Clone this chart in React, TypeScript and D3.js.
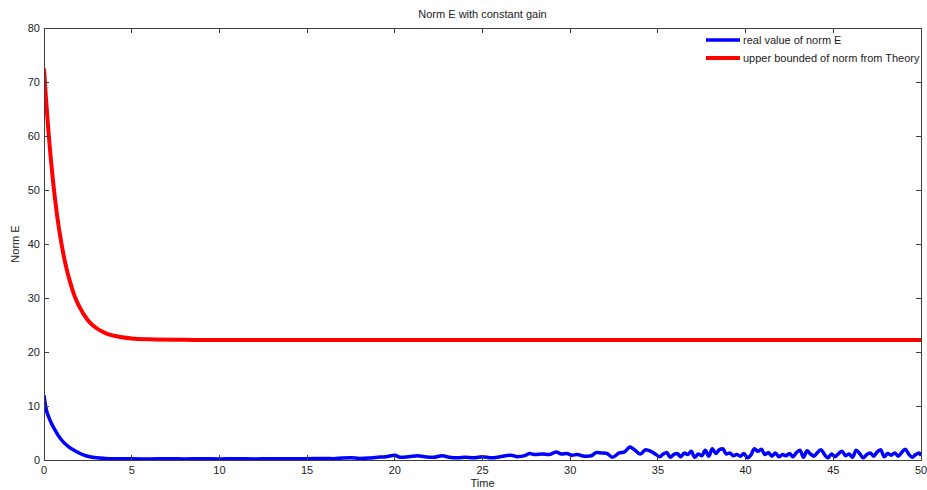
import React from "react";
import * as d3 from "d3";

const xTicks = [0, 5, 10, 15, 20, 25, 30, 35, 40, 45, 50];
const yTicks = [0, 10, 20, 30, 40, 50, 60, 70, 80];

const redT = [0, 0.1, 0.25, 0.5, 0.75, 1, 1.25, 1.5, 1.75, 2, 2.5, 3, 3.5, 4, 5, 6, 8, 10, 20, 30, 40, 50];
const redV = [72.5, 67.5, 61.0, 52.1, 45.2, 40.0, 35.9, 32.8, 30.3, 28.5, 25.9, 24.4, 23.5, 23.0, 22.5, 22.35, 22.25, 22.2, 22.2, 22.2, 22.2, 22.2];

const blueT = [
  0, 0.1, 0.34, 0.63, 1.0, 1.39, 1.86, 2.43, 3, 3.5, 4, 5, 6, 7, 8, 9, 10, 11, 12, 13, 14, 15, 16, 16.5, 17, 17.5, 18, 18.5, 19, 19.5, 20, 20.3, 20.8, 21.3, 21.7, 22.2, 22.7, 23.1, 23.6, 24, 24.5, 25, 25.5, 26, 26.6, 27, 27.4, 27.7, 28, 28.4, 28.8, 29.2, 29.5, 29.8, 30.1, 30.4, 30.8, 31.2, 31.5, 31.8, 32.1, 32.4, 32.8, 33.1, 33.4, 33.7, 34, 34.3, 34.6, 34.9,
  35.1, 35.3, 35.5, 35.7, 35.9, 36.1, 36.3, 36.5, 36.7, 36.9, 37.1, 37.3, 37.5, 37.7, 37.9, 38.1, 38.3, 38.5, 38.7, 38.9, 39.1, 39.3, 39.5, 39.7, 39.9,
  40.1, 40.3, 40.5, 40.7, 40.9, 41.1, 41.3, 41.5, 41.7, 41.9, 42.1, 42.3, 42.5, 42.7, 42.9, 43.1, 43.3, 43.5, 43.7, 43.9, 44.1, 44.3, 44.5, 44.7, 44.9,
  45.1, 45.3, 45.5, 45.7, 45.9, 46.1, 46.3, 46.5, 46.7, 46.9, 47.1, 47.3, 47.5, 47.7, 47.9, 48.1, 48.3, 48.5, 48.7, 48.9, 49.1, 49.3, 49.5, 49.7, 49.9, 50,
];
const blueV = [
  12, 9.8, 7.4, 5.55, 3.7, 2.47, 1.54, 0.74, 0.4, 0.3, 0.25, 0.22, 0.2, 0.22, 0.2, 0.22, 0.2, 0.22, 0.2, 0.25, 0.22, 0.25, 0.3, 0.25, 0.35, 0.4, 0.3, 0.35, 0.5, 0.6, 0.9, 0.5, 0.6, 0.8, 0.6, 0.5, 0.8, 0.5, 0.4, 0.5, 0.4, 0.6, 0.4, 0.6, 0.9, 0.6, 0.8, 1.2, 1.0, 1.1, 1.0, 1.5, 1.1, 1.2, 0.9, 1.0, 0.7, 0.8, 1.4, 1.3, 1.2, 0.5, 1.3, 1.5, 2.4, 1.8, 1.1, 1.9, 1.6, 1.0,
  0.6, 1.1, 1.4, 0.5, 1.0, 1.2, 0.6, 1.3, 1.0, 1.6, 0.5, 1.1, 0.8, 1.8, 0.7, 2.1, 1.2, 1.9, 2.1, 1.1, 1.3, 0.8, 1.0, 0.7, 1.2,
  0.4, 0.9, 2.1, 1.6, 2.0, 1.0, 1.4, 0.7, 1.3, 0.6, 1.0, 0.8, 1.2, 0.6, 1.4, 1.8, 0.5, 1.7, 1.1, 0.7, 1.4, 1.9, 1.0, 0.4, 1.1,
  0.6, 1.2, 1.6, 0.8, 1.1, 0.5, 1.8, 1.2, 0.4, 1.0, 1.3, 0.7, 1.5, 1.9, 0.6, 1.2, 0.9, 1.3, 0.7, 1.4, 2.0, 1.1, 0.5, 1.0, 1.3, 0.8,
];

const W = 927;
const H = 490;
const L = 44, R = 921, T = 28, B = 460;

export default function App() {
  const x = d3.scaleLinear().domain([0, 50]).range([L, R]);
  const y = d3.scaleLinear().domain([0, 80]).range([B, T]);
  const line = d3
    .line<[number, number]>()
    .x((d) => x(d[0]))
    .y((d) => y(d[1]))
    .curve(d3.curveMonotoneX);
  const red = redT.map((t, i) => [t, redV[i]] as [number, number]);
  const blue = blueT.map((t, i) => [t, blueV[i]] as [number, number]);
  const axisColor = "#404040";
  const font = "'Liberation Sans', Arial, Helvetica, sans-serif";
  return (
    <svg width={W} height={H} style={{ position: "absolute", left: 0, top: 0, background: "#fff" }} fontFamily={font}>
      <rect x={0} y={0} width={W} height={H} fill="#fff" />
      <defs>
        <clipPath id="plot">
          <rect x={L} y={T} width={R - L} height={B - T} />
        </clipPath>
      </defs>
      <g clipPath="url(#plot)">
        <path d={line(red) || ""} fill="none" stroke="#ff0000" strokeWidth={4} strokeLinejoin="round" />
        <path d={line(blue) || ""} fill="none" stroke="#0000ff" strokeWidth={3.5} strokeLinejoin="round" />
      </g>
      <rect x={L} y={T} width={R - L} height={B - T} fill="none" stroke={axisColor} strokeWidth={1} shapeRendering="crispEdges" />
      {xTicks.map((t) => (
        <g key={"x" + t}>
          <line x1={x(t)} x2={x(t)} y1={B} y2={B - 5} stroke={axisColor} shapeRendering="crispEdges" />
          <line x1={x(t)} x2={x(t)} y1={T} y2={T + 5} stroke={axisColor} shapeRendering="crispEdges" />
          <text x={x(t)} y={B + 14} fontSize={11} textAnchor="middle" fill="#222">{t}</text>
        </g>
      ))}
      {yTicks.map((t) => (
        <g key={"y" + t}>
          <line x1={L} x2={L + 5} y1={y(t)} y2={y(t)} stroke={axisColor} shapeRendering="crispEdges" />
          <line x1={R} x2={R - 5} y1={y(t)} y2={y(t)} stroke={axisColor} shapeRendering="crispEdges" />
          <text x={L - 4} y={y(t) + 4} fontSize={11} textAnchor="end" fill="#222">{t}</text>
        </g>
      ))}
      <text x={(L + R) / 2} y={18} fontSize={11} textAnchor="middle" fill="#222">Norm E with constant gain</text>
      <text x={(L + R) / 2} y={487} fontSize={11} textAnchor="middle" fill="#222">Time</text>
      <text transform={`translate(19,${(T + B) / 2}) rotate(-90)`} fontSize={11} textAnchor="middle" fill="#222">Norm E</text>
      <line x1={706} x2={740} y1={40} y2={40} stroke="#0000ff" strokeWidth={3.5} />
      <text x={743} y={44} fontSize={11} fill="#222">real value of norm E</text>
      <line x1={706} x2={740} y1={58} y2={58} stroke="#ff0000" strokeWidth={4} />
      <text x={743} y={62} fontSize={11} fill="#222">upper bounded of norm from Theory</text>
    </svg>
  );
}
